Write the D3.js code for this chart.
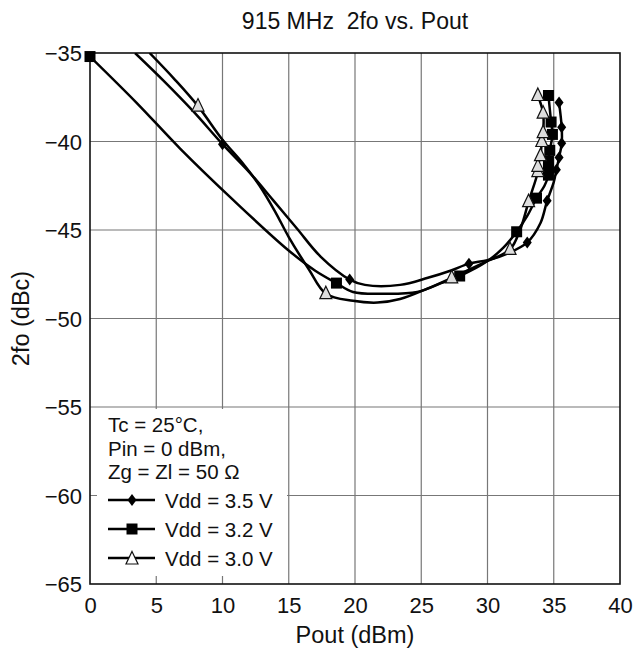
<!DOCTYPE html>
<html>
<head>
<meta charset="utf-8">
<script src="https://cdn.jsdelivr.net/npm/d3@7/dist/d3.min.js"></script>
<style>
  body { margin: 0; background: #fff; }
  text { font-family: "Liberation Sans", Arial, sans-serif; fill: #111; }
</style>
</head>
<body>
<svg id="chart" width="635" height="653"></svg>
<script>
// x ticks (Pout dBm) and y ticks (2fo dBc)
const xTicks = [0, 5, 10, 15, 20, 25, 30, 35, 40];
const yTicks = [-35, -40, -45, -50, -55, -60, -65];

// Vdd = 3.5 V trace and diamond markers
const vdd35Line = [[3.4, -35.0], [5.6, -36.6], [7.8, -38.3], [10.0, -40.15], [12.1, -41.8], [13.8, -43.3],
  [15.6, -44.9], [17.4, -46.5], [19.6, -47.8], [20.75, -48.1], [23.4, -48.1], [25.5, -47.7], [27.2, -47.3],
  [28.6, -46.9], [30.0, -46.7], [31.6, -46.3], [33.0, -45.7], [34.0, -44.6], [34.5, -43.35], [35.0, -42.3],
  [35.2, -41.6], [35.4, -40.9], [35.6, -40.1], [35.6, -39.2], [35.4, -37.8]];
const vdd35Marks = [[10.0, -40.15], [19.6, -47.8], [28.6, -46.9], [33.0, -45.7], [34.5, -43.35], [35.2, -41.6],
  [35.4, -40.9], [35.6, -40.1], [35.6, -39.2], [35.4, -37.8]];

// Vdd = 3.2 V trace and square markers
const vdd32Line = [[0, -35.2], [3.5, -37.8], [6.8, -40.4], [10.8, -43.3], [14.9, -46.1], [17.0, -47.3],
  [18.6, -48.0], [19.85, -48.5], [22.1, -48.6], [24.7, -48.5], [26.5, -48.0], [27.9, -47.6], [30.0, -46.75],
  [31.2, -46.0], [32.2, -45.1], [33.0, -44.2], [33.7, -43.2], [34.3, -42.5], [34.6, -41.9], [34.6, -41.5],
  [34.6, -41.1], [34.7, -40.5], [34.9, -39.6], [34.8, -38.9], [34.6, -37.4]];
const vdd32Marks = [[0, -35.2], [18.6, -48.0], [27.9, -47.6], [32.2, -45.1], [33.7, -43.2], [34.6, -41.9],
  [34.6, -41.5], [34.6, -41.1], [34.7, -40.5], [34.9, -39.6], [34.8, -38.9], [34.6, -37.4]];

// Vdd = 3.0 V trace and triangle markers
const vdd30Line = [[4.5, -35.0], [6.4, -36.5], [8.15, -38.0], [10.0, -39.9], [11.5, -41.2], [12.8, -42.5],
  [14.0, -44.0], [15.0, -45.4], [16.5, -47.2], [17.8, -48.6], [19.85, -49.0], [21.7, -49.1], [23.4, -48.9],
  [25.5, -48.3], [27.3, -47.7], [30.0, -46.75], [31.7, -46.1], [32.5, -44.9], [33.1, -43.4], [33.8, -41.7],
  [33.8, -41.4], [34.0, -40.8], [34.1, -40.0], [34.2, -39.5], [34.2, -38.4], [33.8, -37.4]];
const vdd30Marks = [[8.15, -38.0], [17.8, -48.6], [27.3, -47.7], [31.7, -46.1], [33.1, -43.4], [33.8, -41.7],
  [33.8, -41.4], [34.0, -40.8], [34.1, -40.0], [34.2, -39.5], [34.2, -38.4], [33.8, -37.4]];

const noteLines = ['Tc = 25°C,', 'Pin = 0 dBm,', 'Zg = Zl = 50 Ω'];
const legendLabels = ['Vdd = 3.5 V', 'Vdd = 3.2 V', 'Vdd = 3.0 V'];

const margin = { top: 53, left: 90 };
const width = 530;
const height = 531;

const svg = d3.select('#chart');
const g = svg.append('g').attr('transform', `translate(${margin.left},${margin.top})`);

const x = d3.scaleLinear().domain([0, 40]).range([0, width]);
const y = d3.scaleLinear().domain([-65, -35]).range([height, 0]);

// grid
g.append('g').selectAll('line').data(xTicks.slice(1, -1)).enter().append('line')
  .attr('x1', d => x(d)).attr('x2', d => x(d)).attr('y1', 0).attr('y2', height)
  .attr('stroke', '#777').attr('stroke-width', 1.2);
g.append('g').selectAll('line').data(yTicks.slice(1, -1)).enter().append('line')
  .attr('y1', d => y(d)).attr('y2', d => y(d)).attr('x1', 0).attr('x2', width)
  .attr('stroke', '#777').attr('stroke-width', 1.2);

// legend background hides grid
g.append('rect')
  .attr('x', 7).attr('y', 356).attr('width', 190).attr('height', 167)
  .attr('fill', '#fff');

// axes
const xAxis = g.append('g').attr('transform', `translate(0,${height})`)
  .call(d3.axisBottom(x).tickValues(xTicks).tickSize(0).tickPadding(13).tickFormat(d3.format('d')));
const yAxis = g.append('g')
  .call(d3.axisLeft(y).tickValues(yTicks).tickSize(0).tickPadding(8).tickFormat(d => d3.format('d')(d).replace('-', '−')));
[xAxis, yAxis].forEach(a => {
  a.select('.domain').remove();
  a.selectAll('text').style('font-size', '22px').attr('fill', '#111');
});
yAxis.selectAll('text').attr('dy', '0.36em');

// frame
g.append('rect').attr('width', width).attr('height', height)
  .attr('fill', 'none').attr('stroke', '#111').attr('stroke-width', 1.6);

// curves
g.append('clipPath').attr('id', 'plot-clip').append('rect')
  .attr('width', width).attr('height', height);

const line = d3.line()
  .x(d => x(d[0])).y(d => y(d[1]))
  .curve(d3.curveCatmullRom.alpha(0.5));

const curves = g.append('g').attr('clip-path', 'url(#plot-clip)');
[vdd35Line, vdd32Line, vdd30Line].forEach(pts => {
  curves.append('path').datum(pts)
    .attr('d', line)
    .attr('fill', 'none').attr('stroke', '#000').attr('stroke-width', 2.5);
});

// marker shapes
const diamond = 'M0,-6L4.5,0L0,6L-4.5,0Z';
const square = 'M-5.5,-5.5H5.5V5.5H-5.5Z';
const triangle = 'M0,-7.5L6,5H-6Z';

const markers = g.append('g');
markers.selectAll('.dia').data(vdd35Marks).enter().append('path')
  .attr('class', 'dia').attr('d', diamond)
  .attr('transform', d => `translate(${x(d[0])},${y(d[1])})`)
  .attr('fill', '#000');
markers.selectAll('.sq').data(vdd32Marks).enter().append('path')
  .attr('class', 'sq').attr('d', square)
  .attr('transform', d => `translate(${x(d[0])},${y(d[1])})`)
  .attr('fill', '#000');
markers.selectAll('.tri').data(vdd30Marks).enter().append('path')
  .attr('class', 'tri').attr('d', triangle)
  .attr('transform', d => `translate(${x(d[0])},${y(d[1])})`)
  .attr('fill', '#ddd').attr('stroke', '#111').attr('stroke-width', 1.2);

// legend
const legend = g.append('g').attr('transform', 'translate(18,0)');
legend.selectAll('.note').data(noteLines).enter().append('text')
  .attr('class', 'note')
  .attr('x', 0).attr('y', (d, i) => 379 + i * 23.5)
  .style('font-size', '20.5px')
  .text(d => d);

const shapes = [diamond, square, triangle];
const fills = ['#000', '#000', '#fff'];
legendLabels.forEach((label, i) => {
  const cy = 447 + i * 29;
  legend.append('line').attr('x1', 0).attr('x2', 47).attr('y1', cy).attr('y2', cy)
    .attr('stroke', '#000').attr('stroke-width', 2.5);
  legend.append('path').attr('d', shapes[i])
    .attr('transform', `translate(24,${cy + (i === 2 ? 1 : 0)})`)
    .attr('fill', fills[i]).attr('stroke', i === 2 ? '#111' : 'none').attr('stroke-width', 1.2);
  legend.append('text').attr('x', 57).attr('y', cy + 7.5)
    .style('font-size', '20.5px')
    .text(label);
});

// titles
svg.append('text').attr('x', margin.left + width / 2).attr('y', 29)
  .attr('text-anchor', 'middle').style('font-size', '23px').style('white-space', 'pre')
  .text('915 MHz  2fo vs. Pout');
svg.append('text').attr('x', margin.left + width / 2).attr('y', 643)
  .attr('text-anchor', 'middle').style('font-size', '23.5px')
  .text('Pout (dBm)');
svg.append('text').attr('transform', `translate(29,${margin.top + height / 2}) rotate(-90)`)
  .attr('text-anchor', 'middle').style('font-size', '23.5px')
  .text('2fo (dBc)');
</script>
</body>
</html>
